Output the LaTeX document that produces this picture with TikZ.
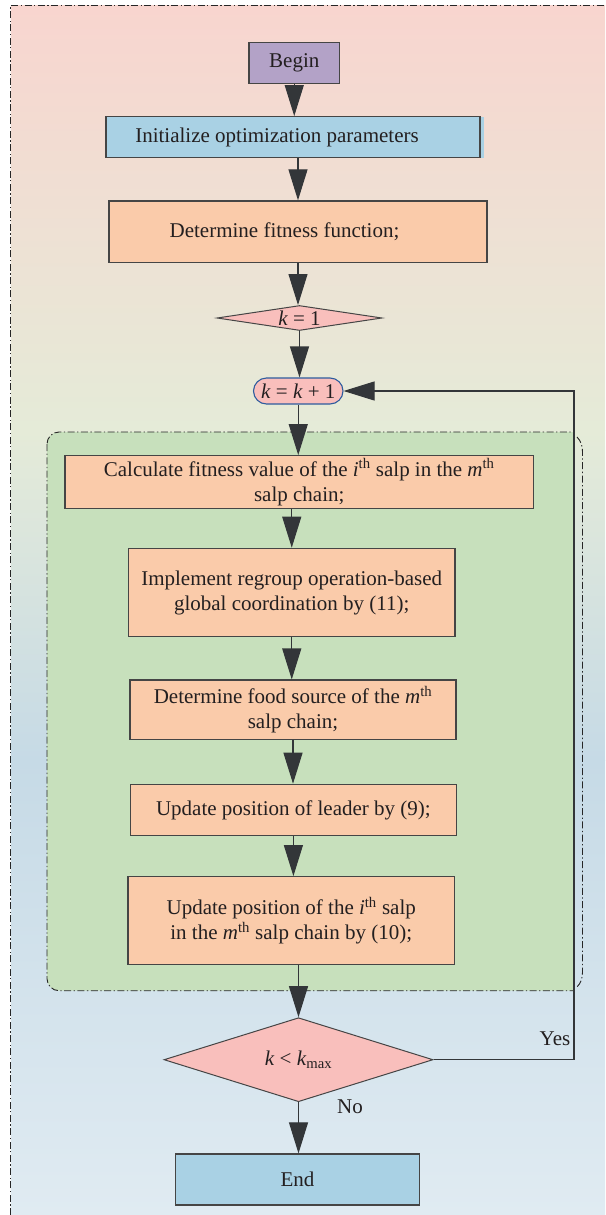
\documentclass[tikz,border=0pt]{standalone}
\usepackage{fontspec}
\setmainfont{Liberation Serif}
\usetikzlibrary{arrows.meta,shapes.geometric,calc}

\definecolor{bgA}{HTML}{F8D5CF}
\definecolor{bgB}{HTML}{E5EBD8}
\definecolor{bgC}{HTML}{C6DAE6}
\definecolor{bgD}{HTML}{E0EBF2}
\definecolor{purp}{HTML}{B3A2C7}
\definecolor{lblue}{HTML}{A9D1E4}
\definecolor{peach}{HTML}{FACBAA}
\definecolor{pinkd}{HTML}{F9BFBC}
\definecolor{grn}{HTML}{C7E0BC}
\definecolor{ink}{HTML}{231F20}
\definecolor{arr}{HTML}{333639}
\definecolor{edge}{HTML}{454545}
\definecolor{kblue}{HTML}{2E5C9E}

\begin{document}
\begin{tikzpicture}[x=1pt,y=-1pt, font=\fontsize{21}{25}\selectfont, text=ink,
  box/.style={draw=edge, line width=1.2pt, inner sep=0pt, align=center},
  decis/.style={diamond, draw=edge, line width=1pt, fill=pinkd, inner sep=0pt},
  flow/.style={draw=arr, line width=1.1pt, -{Triangle[width=19pt,length=31pt]}},
  dashdot/.style={draw=black!85, line width=0.9pt, dash pattern=on 7pt off 2.5pt on 1.3pt off 2.5pt},
]
\useasboundingbox (0,0) rectangle (605,1215);
% background
\shade[top color=bgA, bottom color=bgB] (10.8,5.3) rectangle (605,430.5);
\shade[top color=bgB, bottom color=bgC] (10.8,430) rectangle (605,760.5);
\shade[top color=bgC, bottom color=bgD] (10.8,760) rectangle (605,1215);
\draw[dashdot] (10.8,1215) -- (10.8,5.3) -- (605,5.3);

% green group
\begin{scope}
  \clip (0,0) rectangle (574,1215);
  \fill[grn, rounded corners=12pt] (47,432) rectangle (600,990.7);
  \draw[dashdot, rounded corners=12pt] (47,432) rectangle (600,990.7);
\end{scope}
\draw[dashdot] (577,437) .. controls (581,441) and (582.5,446) .. (582.5,452) -- (582.5,972) .. controls (582.5,978) and (581,983) .. (577,987);

% nodes
\node[box, fill=purp, minimum width=90.5pt, minimum height=40.6pt] (begin) at (294.25,63) {Begin};
\fill[lblue] (480,117) rectangle (484,158);
\node[box, fill=lblue, minimum width=374pt, minimum height=41pt] (init) at (293,137.2) {Initialize optimization parameters\hspace*{32pt}};
\node[box, fill=peach, minimum width=378pt, minimum height=61.7pt] (det) at (298,231.8) {Determine fitness function;\hspace*{27pt}};
\node[decis, aspect=6.6, minimum width=165pt, minimum height=25pt] (k1) at (299.5,318) {\textit{k} = 1};
\node[draw=kblue, line width=1.1pt, fill=pinkd, rounded corners=13pt, minimum width=89.5pt, minimum height=26pt, inner sep=0pt] (kk1) at (298.25,391) {\textit{k} = \textit{k} + 1};
\node[box, fill=peach, minimum width=468.5pt, minimum height=52.6pt] (calc) at (299.25,482) {Calculate fitness value of the \textit{i}\textsuperscript{th} salp in the \textit{m}\textsuperscript{th}\\salp chain;};
\node[box, fill=peach, minimum width=326.5pt, minimum height=88.4pt] (impl) at (291.75,592.5) {Implement regroup operation-based\\global coordination by (11);};
\node[box, fill=peach, minimum width=326pt, minimum height=59.3pt] (food) at (293,709.7) {Determine food source of the \textit{m}\textsuperscript{th}\\salp chain;};
\node[box, fill=peach, minimum width=326pt, minimum height=51.4pt] (leader) at (293.4,810) {Update position of leader by (9);};
\node[box, fill=peach, minimum width=326.5pt, minimum height=87.6pt] (upd) at (291.25,920.5) {Update position of the \textit{i}\textsuperscript{th} salp\\in the \textit{m}\textsuperscript{th} salp chain by (10);};
\node[decis, aspect=3.2, minimum width=269pt, minimum height=84pt] (dec) at (298.5,1059.7) {\textit{k} < \textit{k}\textsubscript{max}};
\node[box, fill=lblue, minimum width=244pt, minimum height=51pt] (end) at (297.5,1179.5) {End};
\node (yes) at (555,1039) {Yes};
\node (no) at (350,1107) {No};

% connectors
\draw[flow] (begin.south) -- (begin.south |- init.north);
\draw[flow] (init.south -| det.north) -- (det.north);
\draw[flow] (det.south) -- (det.south |- k1.north);
\draw[flow] (k1.south) -- (k1.south |- kk1.north);
\draw[flow] (kk1.south) -- (kk1.south |- calc.north);
\draw[flow] (calc.south -| impl.north) -- (impl.north);
\draw[flow] (impl.south) -- (impl.south |- food.north);
\draw[flow] (food.south) -- (food.south |- leader.north);
\draw[flow] (leader.south) -- (leader.south |- upd.north);
\draw[flow] (upd.south -| dec.north) -- (dec.north);
\draw[flow] (dec.south) -- (dec.south |- end.north);
\coordinate (fb) at (574,391);
\draw[flow] (dec.east) -| (fb) -- (kk1.east);
\end{tikzpicture}
\end{document}
